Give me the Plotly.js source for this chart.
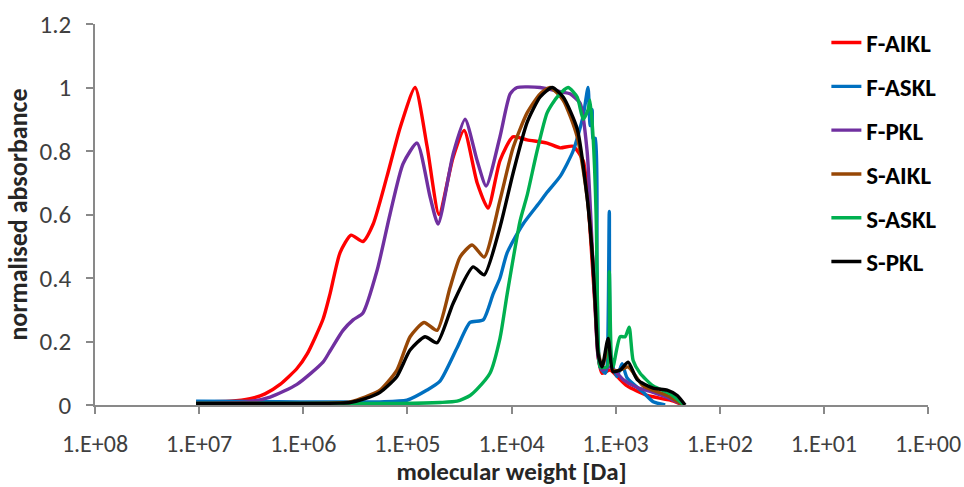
<!DOCTYPE html>
<html>
<head>
<meta charset="utf-8">
<script src="https://cdn.plot.ly/plotly-3.0.1.min.js"></script>
<style>
  html, body { margin: 0; padding: 0; background: #ffffff; }
  #chart { width: 964px; height: 487px; }
</style>
</head>
<body>
<div id="chart"></div>
<script>
// Series names (legend order)
const seriesNames = ["F-AIKL", "F-ASKL", "F-PKL", "S-AIKL", "S-ASKL", "S-PKL"];
const seriesColors = ["#FF0000", "#0070C0", "#7030A0", "#974706", "#00B050", "#000000"];

// Tick labels for the reversed log molecular-weight axis
const xTickValues = [1e8, 1e7, 1e6, 1e5, 1e4, 1e3, 1e2, 1e1, 1e0];
const xTickLabels = ["1.E+08", "1.E+07", "1.E+06", "1.E+05", "1.E+04", "1.E+03", "1.E+02", "1.E+01", "1.E+00"];

// F-AIKL
const mwFAIKL = [1.07e7, 5.05e6, 3.24e6, 2.33e6, 1.67e6, 1.15e6, 9.2e5, 6.46e5, 5.53e5, 4.43e5,
  3.47e5, 2.67e5, 2.13e5, 1.57e5, 1.17e5, 8.43e4, 6.47e4, 4.97e4, 3.64e4, 2.85e4,
  2.14e4, 1.68e4, 1.29e4, 9.66e3, 7.08e3, 4.55e3, 3.41e3, 2.56e3, 2.05e3, 1.88e3,
  1.68e3, 1.57e3, 1.47e3, 1.35e3, 1.13e3, 968, 775, 498, 299, 225];
const absFAIKL = [0.01, 0.012, 0.02, 0.035, 0.065, 0.115, 0.16, 0.27, 0.35, 0.48,
  0.535, 0.515, 0.57, 0.72, 0.875, 1.0, 0.815, 0.6, 0.78, 0.865,
  0.70, 0.62, 0.77, 0.845, 0.835, 0.825, 0.81, 0.815, 0.77, 0.68,
  0.45, 0.30, 0.15, 0.10, 0.11, 0.09, 0.06, 0.03, 0.015, 0.0];

// F-ASKL
const mwFASKL = [1.07e7, 1.07e6, 1.83e5, 1.01e5, 6.47e4, 4.86e4, 3.33e4, 2.50e4, 1.87e4, 1.50e4,
  1.29e4, 1.10e4, 7.74e3, 5.31e3, 4.55e3, 3.41e3, 2.56e3, 2.05e3, 1.84e3, 1.76e3,
  1.68e3, 1.65e3, 1.57e3, 1.51e3, 1.41e3, 1.26e3, 1.21e3, 1.15e3, 1.10e3, 968,
  867, 775, 544, 436, 334];
const absFASKL = [0.012, 0.01, 0.01, 0.015, 0.047, 0.075, 0.18, 0.26, 0.268, 0.35,
  0.40, 0.48, 0.57, 0.64, 0.67, 0.72, 0.80, 0.91, 1.0, 0.88,
  0.93, 0.84, 0.84, 0.43, 0.12, 0.10, 0.12, 0.61, 0.14, 0.09,
  0.13, 0.085, 0.04, 0.01, 0.0];

// F-PKL
const mwFPKL = [1.07e7, 3.47e6, 2.08e6, 1.15e6, 6.46e5, 5.53e5, 4.15e5, 3.32e5, 2.67e5, 1.95e5,
  1.47e5, 1.10e5, 8.07e4, 6.05e4, 5.07e4, 3.64e4, 2.79e4, 2.14e4, 1.75e4, 1.29e4,
  1.03e4, 8.84e3, 5.31e3, 3.19e3, 2.74e3, 2.19e3, 1.88e3, 1.68e3, 1.57e3, 1.47e3,
  1.35e3, 1.13e3, 968, 847, 621, 436, 299, 225];
const absFPKL = [0.005, 0.01, 0.025, 0.065, 0.135, 0.17, 0.235, 0.268, 0.29, 0.425,
  0.6, 0.76, 0.825, 0.655, 0.57, 0.79, 0.9, 0.77, 0.69, 0.845,
  0.98, 1.0, 1.0, 0.985, 0.98, 0.95, 0.8, 0.5, 0.3, 0.15,
  0.11, 0.12, 0.10, 0.08, 0.055, 0.04, 0.02, 0.0];

// S-AIKL
const mwSAIKL = [1.07e7, 1.07e6, 4.43e5, 3.55e5, 2.55e5, 1.83e5, 1.26e5, 9.42e4, 6.92e4, 5.19e4,
  3.89e4, 3.12e4, 2.39e4, 1.83e4, 1.29e4, 9.66e3, 7.08e3, 5.31e3, 4.26e3, 3.19e3,
  2.34e3, 1.88e3, 1.68e3, 1.57e3, 1.47e3, 1.35e3, 1.18e3, 1.06e3, 906, 758,
  544, 320, 225];
const absSAIKL = [0.005, 0.005, 0.007, 0.01, 0.025, 0.047, 0.11, 0.215, 0.26, 0.235,
  0.37, 0.466, 0.504, 0.466, 0.645, 0.81, 0.92, 0.98, 1.0, 0.96,
  0.845, 0.655, 0.48, 0.32, 0.17, 0.12, 0.18, 0.11, 0.11, 0.12,
  0.06, 0.03, 0.0];

// S-ASKL
const mwSASKL = [1.07e7, 1.17e5, 4.86e4, 3.33e4, 2.50e4, 2.14e4, 1.61e4, 1.29e4, 1.10e4, 8.27e3,
  7.08e3, 5.68e3, 4.55e3, 3.65e3, 2.86e3, 2.34e3, 2.05e3, 1.84e3, 1.76e3, 1.65e3,
  1.54e3, 1.47e3, 1.41e3, 1.21e3, 1.15e3, 1.10e3, 1.06e3, 906, 811, 741,
  679, 582, 436, 299, 220];
const absSASKL = [0.005, 0.005, 0.008, 0.012, 0.03, 0.05, 0.10, 0.21, 0.35, 0.58,
  0.66, 0.80, 0.92, 0.97, 1.0, 0.97, 0.9, 0.93, 0.96, 0.85,
  0.6, 0.2, 0.12, 0.12, 0.42, 0.15, 0.12, 0.215, 0.215, 0.245,
  0.14, 0.1, 0.06, 0.035, 0.0];

// S-PKL
const mwSPKL = [1.07e7, 1.07e6, 4.43e5, 3.55e5, 2.55e5, 1.83e5, 1.26e5, 9.42e4, 6.77e4, 5.19e4,
  3.64e4, 2.34e4, 1.83e4, 1.29e4, 9.66e3, 7.08e3, 5.31e3, 4.07e3, 3.19e3, 2.34e3,
  1.88e3, 1.68e3, 1.57e3, 1.47e3, 1.35e3, 1.18e3, 1.06e3, 906, 758, 621,
  436, 320, 256, 215];
const absSPKL = [0.005, 0.005, 0.006, 0.008, 0.02, 0.04, 0.09, 0.173, 0.215, 0.196,
  0.32, 0.435, 0.41, 0.56, 0.73, 0.89, 0.97, 1.0, 0.97, 0.87,
  0.655, 0.48, 0.32, 0.16, 0.12, 0.21, 0.105, 0.11, 0.135, 0.08,
  0.053, 0.047, 0.03, 0.0];

const xData = [mwFAIKL, mwFASKL, mwFPKL, mwSAIKL, mwSASKL, mwSPKL];
const yData = [absFAIKL, absFASKL, absFPKL, absSAIKL, absSASKL, absSPKL];

const FONT = "Carlito, Calibri, 'Liberation Sans', Arial, sans-serif";

const traces = seriesNames.map((name, i) => ({
  type: "scatter",
  mode: "lines",
  name: name,
  legendgroup: name,
  x: xData[i],
  y: yData[i],
  line: { color: seriesColors[i], width: 3.4, shape: "spline", smoothing: 0.6 },
  hoverinfo: "x+y+name"
}));

const layout = {
  width: 964,
  height: 487,
  margin: { l: 95, r: 36, t: 24, b: 82, pad: 0 },
  paper_bgcolor: "#ffffff",
  plot_bgcolor: "#ffffff",
  font: { family: FONT, color: "#404040", size: 24 },
  showlegend: true,
  legend: {
    x: 0.878, y: 1.011, xanchor: "left", yanchor: "top",
    traceorder: "grouped",
    tracegroupgap: 8.3,
    maxheight: 470,
    font: { family: FONT, size: 25, color: "#000000", weight: "bold" },
    bgcolor: "rgba(0,0,0,0)",
    borderwidth: 0
  },
  xaxis: {
    type: "log",
    range: [8, 0],
    tickmode: "array",
    tickvals: xTickValues,
    ticktext: xTickLabels,
    showgrid: false,
    zeroline: false,
    showline: true,
    linecolor: "#898989",
    linewidth: 1.5,
    ticks: "outside",
    ticklen: 7,
    tickwidth: 1.5,
    tickcolor: "#898989",
    ticklabelstandoff: 9,
    tickfont: { family: FONT, size: 24, color: "#404040" },
    title: {
      text: "molecular weight [Da]",
      font: { family: FONT, size: 25, color: "#262626", weight: "bold" },
      standoff: 4
    },
    automargin: false
  },
  yaxis: {
    range: [0, 1.2],
    tickmode: "array",
    tickvals: [0, 0.2, 0.4, 0.6, 0.8, 1.0, 1.2],
    ticktext: ["0", "0.2", "0.4", "0.6", "0.8", "1", "1.2"],
    showgrid: false,
    zeroline: false,
    showline: true,
    linecolor: "#898989",
    linewidth: 1.5,
    ticks: "outside",
    ticklen: 7,
    tickwidth: 1.5,
    tickcolor: "#898989",
    ticklabelstandoff: 10,
    tickfont: { family: FONT, size: 25, color: "#404040" },
    title: {
      text: "normalised absorbance",
      font: { family: FONT, size: 26, color: "#262626", weight: "bold" },
      standoff: 4
    },
    automargin: false
  }
};

Plotly.newPlot("chart", traces, layout, { displayModeBar: false, staticPlot: false });
</script>
</body>
</html>
